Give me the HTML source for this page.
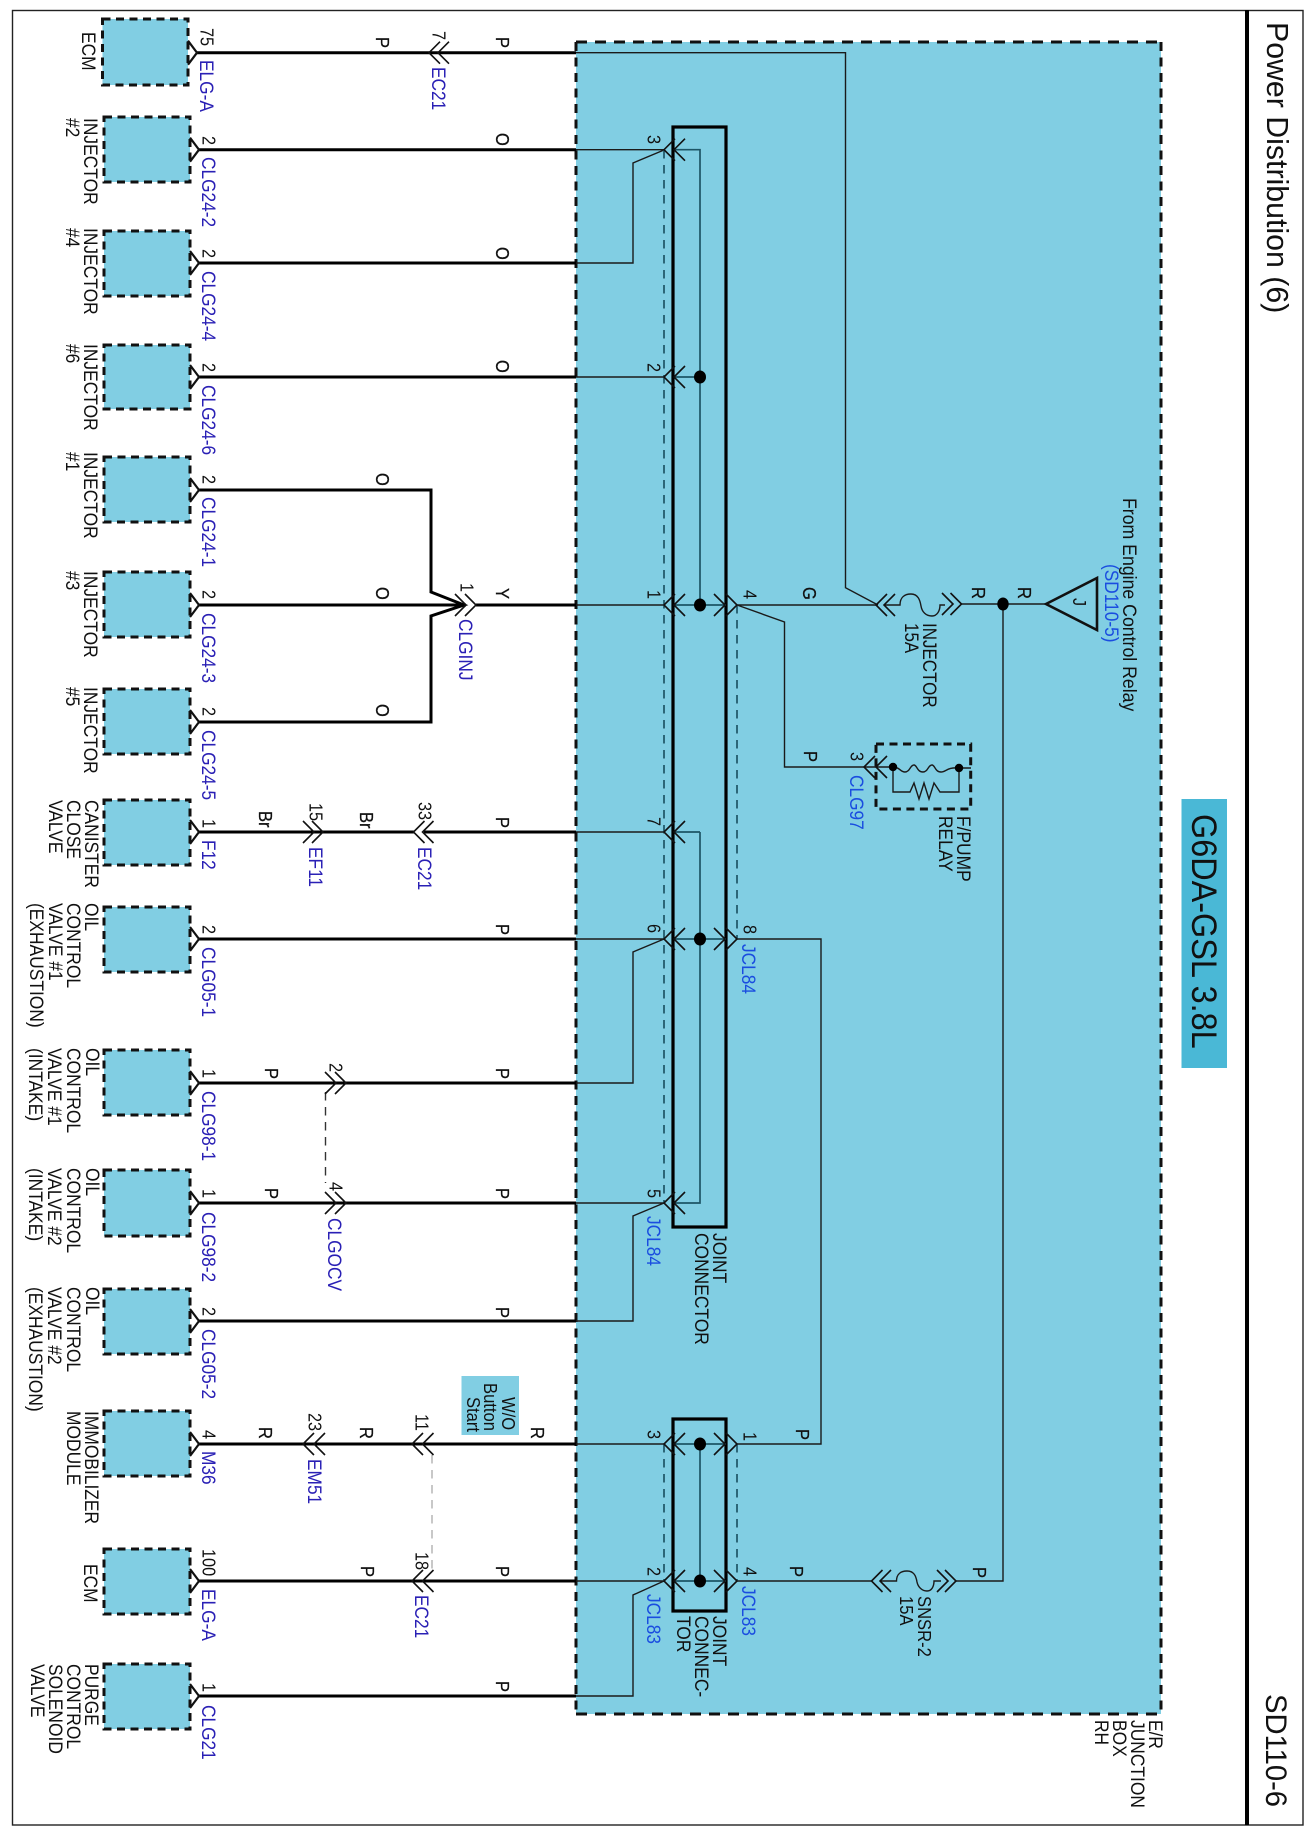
<!DOCTYPE html>
<html><head><meta charset="utf-8"><style>
html,body{margin:0;padding:0;background:#fff}
svg{display:block}
text{font-family:"Liberation Sans",sans-serif;fill:#111;font-size:17.4px}
.p{font-size:16.3px}
.w{font-size:16.5px;stroke:#111;stroke-width:.25px}
.b{fill:#2a20b5;font-size:17.3px}
.c{fill:#1a4de0;font-size:17.3px}
.th{fill:none;stroke:#000;stroke-width:3}
.tn{fill:none;stroke:#1a1a1a;stroke-width:1.4}
.bus{fill:none;stroke:#1d5566;stroke-width:1.7}
.ch{fill:none;stroke:#111;stroke-width:1.6}
.box{fill:#81cee3;stroke:#111;stroke-width:3;stroke-dasharray:8 5.5}
</style></head><body>
<svg xmlns="http://www.w3.org/2000/svg" width="1312" height="1832" viewBox="0 0 1312 1832">
<defs>
<path id="l" class="ch" d="M11 -11L0 0L11 11"/>
<path id="r" class="ch" d="M-11 -11L0 0L-11 11"/>
<path id="e" fill="none" stroke="#111" stroke-width="2.2" d="M-9 -12L0 0L-9 12"/>
</defs>
<rect x="12.5" y="10.5" width="1290.5" height="1814.5" fill="none" stroke="#222" stroke-width="1.4"/>
<rect x="1245" y="10" width="4" height="1815" fill="#000"/>

<!-- junction box -->
<rect x="576" y="42" width="585" height="1672" fill="#81cee3"/>
<path fill="none" stroke="#111" stroke-width="3" stroke-dasharray="11 8" d="M576 42H1161M576 1714H1161"/>
<path fill="none" stroke="#111" stroke-width="3" stroke-dasharray="9 6.5" d="M576 42V1714M1161 42V1714"/>
<rect x="1181.5" y="799" width="45.5" height="269" fill="#4ab8d6"/>
<rect x="461.5" y="1376" width="57.5" height="59" fill="#81cee3"/>

<!-- components -->
<rect class="box" x="102.5" y="19" width="85.5" height="66"/>
<rect class="box" x="104" y="117" width="86" height="65"/>
<rect class="box" x="104" y="231" width="86" height="65"/>
<rect class="box" x="104" y="345" width="86" height="64"/>
<rect class="box" x="104" y="457" width="86" height="65"/>
<rect class="box" x="104" y="572" width="86" height="65"/>
<rect class="box" x="104" y="689" width="86" height="65"/>
<rect class="box" x="104" y="800" width="86" height="65"/>
<rect class="box" x="104" y="907" width="86" height="65"/>
<rect class="box" x="104" y="1050" width="86" height="65"/>
<rect class="box" x="104" y="1170" width="86" height="66"/>
<rect class="box" x="104" y="1289" width="86" height="65"/>
<rect class="box" x="104" y="1411" width="86" height="65"/>
<rect class="box" x="104" y="1549" width="86" height="65"/>
<rect class="box" x="104" y="1664" width="86" height="65"/>

<!-- thick external wires -->
<path class="th" d="M197 52.7H576M199 149.7H576M199 263H576M199 377H576M199 490H431V592L464 605L431 616V722H199M199 605H466M199 832H414M424 832H576M199 939H576M199 1083H576M199 1203H576M199 1321H576M199 1444H576M199 1581H576M199 1696H576"/>
<path fill="none" stroke="#000" stroke-width="3" d="M476 605H576"/>

<!-- thin internal wires -->
<path class="tn" d="M576 52.7H845.5V587.7L878 605M576 149.7H664M576 263H633V163L664 150M576 377H664M576 605H664M576 832H664M576 939H664M576 1083H633V952L664 939M576 1203H664M576 1321H633V1216L664 1203M576 1444H664M576 1581H664M576 1696H633V1595L664 1581"/>
<path class="tn" d="M737 605H876M737 605L784.5 622V767H864M737 939H821V1444H737M737 1581H871M961 604H1046M1003 604V1581H956"/>
<!-- fuses -->
<path class="tn" d="M885 605H900C900 597 905 594 911 594C918 594 920 600 921 606C922 612 926 616 932 616C937 616 940 611 940 605H945"/>
<path class="tn" d="M881 1581H896.5C896.5 1574 901 1571 907 1571C914 1571 916 1576 917 1582C918 1587 922 1591 927 1591C932 1591 934 1586 934 1581H941"/>
<!-- relay -->
<rect x="876" y="744" width="94.7" height="65" fill="none" stroke="#111" stroke-width="3" stroke-dasharray="8 5.5"/>
<path class="tn" d="M864 767H893C900 767 900 772 905 772C910 772 910 765 914 765C917 765 917 772 923 772C928 772 928 765 932 765C935 765 935 772 941 772C946 772 947 767 959 768H971M893 767V792H910L914 783L919 799L924 783L929 799L934 783L940 792H959V768"/>
<circle cx="893" cy="767" r="4.2" fill="#000"/><circle cx="959" cy="768" r="4.2" fill="#000"/>

<!-- joint connectors -->
<rect x="673" y="127" width="53" height="1100" fill="none" stroke="#000" stroke-width="3.2"/>
<rect x="673" y="1419" width="53" height="192" fill="none" stroke="#000" stroke-width="3.2"/>
<path class="bus" d="M674 149.7H700V605M674 377H700M674 605H726M726 939H674M700 832H674M700 832V1203H674M674 1444H726M674 1581H726M700 1444V1581"/>
<path fill="none" stroke="#1d5566" stroke-width="1.7" stroke-dasharray="8.5 6.5" d="M664 150V1203M664 1444V1581M737 605V939M737 1444V1581"/>
<path fill="none" stroke="#333" stroke-width="1.4" stroke-dasharray="8.5 6.5" d="M325.5 1092V1183"/>
<path fill="none" stroke="#bbb" stroke-width="1.6" stroke-dasharray="8.5 6.5" d="M432 1455V1569"/>
<g fill="#000">
<ellipse cx="700" cy="377" rx="6" ry="6.5"/><ellipse cx="700" cy="605" rx="6" ry="6.5"/><ellipse cx="700" cy="939" rx="6" ry="6.5"/><ellipse cx="700" cy="1444" rx="6" ry="6.5"/><ellipse cx="700" cy="1581" rx="6" ry="6.5"/><ellipse cx="1003" cy="604" rx="5.7" ry="6.5"/>
</g>
<!-- chevrons: component ends -->
<use href="#e" x="197" y="52.7"/><use href="#e" x="199" y="149.7"/><use href="#e" x="199" y="263"/><use href="#e" x="199" y="377"/><use href="#e" x="199" y="490"/><use href="#e" x="199" y="605"/><use href="#e" x="199" y="722"/><use href="#e" x="199" y="832"/><use href="#e" x="199" y="939"/><use href="#e" x="199" y="1083"/><use href="#e" x="199" y="1203"/><use href="#e" x="199" y="1321"/><use href="#e" x="199" y="1444"/><use href="#e" x="199" y="1581"/><use href="#e" x="199" y="1696"/>
<!-- chevrons: inline -->
<use href="#l" x="429" y="52.7"/><use href="#l" x="438" y="52.7"/>
<use href="#r" x="466" y="605"/><use href="#r" x="476" y="605"/>
<use href="#r" x="314" y="832"/><use href="#r" x="323" y="832"/>
<use href="#l" x="413.5" y="832"/><use href="#l" x="422.5" y="832"/>
<use href="#r" x="336" y="1083"/><use href="#r" x="346" y="1083"/>
<use href="#r" x="336" y="1203"/><use href="#r" x="346" y="1203"/>
<use href="#l" x="303" y="1444"/><use href="#l" x="314" y="1444"/>
<use href="#l" x="412" y="1444"/><use href="#l" x="422.5" y="1444"/>
<use href="#l" x="412" y="1581"/><use href="#l" x="422.5" y="1581"/>
<!-- chevrons: joint -->
<use href="#l" x="664" y="149.7"/><use href="#l" x="674" y="149.7"/>
<use href="#l" x="664" y="377"/><use href="#l" x="674" y="377"/>
<use href="#l" x="664" y="605"/><use href="#l" x="674" y="605"/>
<use href="#l" x="664" y="832"/><use href="#l" x="674" y="832"/>
<use href="#l" x="664" y="939"/><use href="#l" x="674" y="939"/>
<use href="#l" x="664" y="1203"/><use href="#l" x="674" y="1203"/>
<use href="#l" x="664" y="1444"/><use href="#l" x="674" y="1444"/>
<use href="#l" x="664" y="1581"/><use href="#l" x="674" y="1581"/>
<use href="#r" x="725" y="605"/><use href="#r" x="737" y="605"/>
<use href="#r" x="725" y="939"/><use href="#r" x="737" y="939"/>
<use href="#r" x="725" y="1444"/><use href="#r" x="737" y="1444"/>
<use href="#r" x="725" y="1581"/><use href="#r" x="737" y="1581"/>
<!-- chevrons: fuses, relay -->
<use href="#l" x="876" y="605"/><use href="#l" x="884" y="605"/>
<use href="#r" x="953" y="604"/><use href="#r" x="961.5" y="604"/>
<use href="#l" x="871.5" y="1581"/><use href="#l" x="880" y="1581"/>
<use href="#r" x="948" y="1581"/><use href="#r" x="956" y="1581"/>
<use href="#l" x="864" y="767"/><use href="#l" x="876" y="767"/>
<path d="M1046 604L1097 578V630Z" fill="none" stroke="#111" stroke-width="2.6"/>

<!-- component labels -->
<g transform="translate(1.2 0)">
<text transform="matrix(0 1 -1.12 0 81 32)">ECM</text>
<text transform="matrix(0 1 -1.12 0 83 118)">INJECTOR</text><text transform="matrix(0 1 -1.12 0 65 118)">#2</text>
<text transform="matrix(0 1 -1.12 0 83 228)">INJECTOR</text><text transform="matrix(0 1 -1.12 0 65 228)">#4</text>
<text transform="matrix(0 1 -1.12 0 83 344)">INJECTOR</text><text transform="matrix(0 1 -1.12 0 65 344)">#6</text>
<text transform="matrix(0 1 -1.12 0 83 452)">INJECTOR</text><text transform="matrix(0 1 -1.12 0 65 452)">#1</text>
<text transform="matrix(0 1 -1.12 0 83 571)">INJECTOR</text><text transform="matrix(0 1 -1.12 0 65 571)">#3</text>
<text transform="matrix(0 1 -1.12 0 83 687)">INJECTOR</text><text transform="matrix(0 1 -1.12 0 65 687)">#5</text>
<text transform="matrix(0 1 -1.12 0 84 800)">CANISTER</text><text transform="matrix(0 1 -1.12 0 66 800)">CLOSE</text><text transform="matrix(0 1 -1.12 0 48 800)">VALVE</text>
<text transform="matrix(0 1 -1.12 0 84 903)">OIL</text><text transform="matrix(0 1 -1.12 0 66 903)">CONTROL</text><text transform="matrix(0 1 -1.12 0 48 903)">VALVE #1</text><text transform="matrix(0 1 -1.12 0 29 903)">(EXHAUSTION)</text>
<text transform="matrix(0 1 -1.12 0 85 1048)">OIL</text><text transform="matrix(0 1 -1.12 0 66 1048)">CONTROL</text><text transform="matrix(0 1 -1.12 0 47 1048)">VALVE #1</text><text transform="matrix(0 1 -1.12 0 28 1048)">(INTAKE)</text>
<text transform="matrix(0 1 -1.12 0 85 1168)">OIL</text><text transform="matrix(0 1 -1.12 0 66 1168)">CONTROL</text><text transform="matrix(0 1 -1.12 0 47 1168)">VALVE #2</text><text transform="matrix(0 1 -1.12 0 28 1168)">(INTAKE)</text>
<text transform="matrix(0 1 -1.12 0 85 1287)">OIL</text><text transform="matrix(0 1 -1.12 0 66 1287)">CONTROL</text><text transform="matrix(0 1 -1.12 0 47 1287)">VALVE #2</text><text transform="matrix(0 1 -1.12 0 28 1287)">(EXHAUSTION)</text>
<text transform="matrix(0 1 -1.12 0 84 1411)">IMMOBILIZER</text><text transform="matrix(0 1 -1.12 0 66 1411)">MODULE</text>
<text transform="matrix(0 1 -1.12 0 83 1564)">ECM</text>
<text transform="matrix(0 1 -1.12 0 84 1664)">PURGE</text><text transform="matrix(0 1 -1.12 0 66 1664)">CONTROL</text><text transform="matrix(0 1 -1.12 0 48 1664)">SOLENOID</text><text transform="matrix(0 1 -1.12 0 30 1664)">VALVE</text>
<text style="font-size:16.6px" transform="matrix(0 1 -1.12 0 501 1397)">W/O</text><text style="font-size:16.6px" transform="matrix(0 1 -1.12 0 483 1383)">Button</text><text style="font-size:16.6px" transform="matrix(0 1 -1.12 0 466 1397)">Start</text>
<text transform="matrix(0 1 -1.12 0 712 1233)">JOINT</text><text transform="matrix(0 1 -1.12 0 694 1233)">CONNECTOR</text>
<text transform="matrix(0 1 -1.12 0 712 1616)">JOINT</text><text transform="matrix(0 1 -1.12 0 694 1616)">CONNEC-</text><text transform="matrix(0 1 -1.12 0 676 1616)">TOR</text>
<text style="font-size:17px" transform="matrix(0 1 -1.12 0 922 623)">INJECTOR</text><text style="font-size:17px" transform="matrix(0 1 -1.12 0 904 623)">15A</text>
<text style="font-size:16.6px" transform="matrix(0 1 -1.12 0 917 1596)">SNSR-2</text><text style="font-size:16.6px" transform="matrix(0 1 -1.12 0 899 1596)">15A</text>
<text transform="matrix(0 1 -1.12 0 956 816)">F/PUMP</text><text transform="matrix(0 1 -1.12 0 938 816)">RELAY</text>
<text style="font-size:17.7px" transform="matrix(0 1 -1.12 0 1122 498)">From Engine Control Relay</text>
<text class="c" transform="matrix(0 1 -1.12 0 1104 564)">(SD110-5)</text>
<text class="p" transform="matrix(0 1 -1.12 0 1072 598)">J</text>
<text transform="matrix(0 1 -1.12 0 1148 1720)">E/R</text><text transform="matrix(0 1 -1.12 0 1130 1720)">JUNCTION</text><text transform="matrix(0 1 -1.12 0 1112 1720)">BOX</text><text transform="matrix(0 1 -1.12 0 1094 1720)">RH</text>
<text style="font-size:32.4px" transform="matrix(0 1 -1.08 0 1191 814)">G6DA-GSL 3.8L</text>
<text style="font-size:30.3px" transform="matrix(0 1 -1 0 1266 22)">Power Distribution (6)</text>
<text style="font-size:29.2px" transform="matrix(0 1 -1 0 1265 1694)">SD110-6</text>
</g>

<!-- pin numbers -->
<g transform="translate(1.5 0)">
<text class="p" transform="matrix(0 1 -1.12 0 199 28)">75</text>
<text class="p" transform="matrix(0 1 -1.12 0 201 136)">2</text>
<text class="p" transform="matrix(0 1 -1.12 0 201 249)">2</text>
<text class="p" transform="matrix(0 1 -1.12 0 201 363)">2</text>
<text class="p" transform="matrix(0 1 -1.12 0 201 475)">2</text>
<text class="p" transform="matrix(0 1 -1.12 0 201 590)">2</text>
<text class="p" transform="matrix(0 1 -1.12 0 201 707)">2</text>
<text class="p" transform="matrix(0 1 -1.12 0 201 819)">1</text>
<text class="p" transform="matrix(0 1 -1.12 0 201 925)">2</text>
<text class="p" transform="matrix(0 1 -1.12 0 201 1069)">1</text>
<text class="p" transform="matrix(0 1 -1.12 0 201 1189)">1</text>
<text class="p" transform="matrix(0 1 -1.12 0 201 1307)">2</text>
<text class="p" transform="matrix(0 1 -1.12 0 201 1430)">4</text>
<text class="p" transform="matrix(0 1 -1.12 0 201 1549)">100</text>
<text class="p" transform="matrix(0 1 -1.12 0 201 1683)">1</text>
<text class="p" transform="matrix(0 1 -1.12 0 431 31)">7</text>
<text class="p" transform="matrix(0 1 -1.12 0 459 583)">1</text>
<text class="p" transform="matrix(0 1 -1.12 0 308 803)">15</text>
<text class="p" transform="matrix(0 1 -1.12 0 417 802)">33</text>
<text class="p" transform="matrix(0 1 -1.12 0 328 1063)">2</text>
<text class="p" transform="matrix(0 1 -1.12 0 328 1182)">4</text>
<text class="p" transform="matrix(0 1 -1.12 0 307 1413)">23</text>
<text class="p" transform="matrix(0 1 -1.12 0 414 1414)">11</text>
<text class="p" transform="matrix(0 1 -1.12 0 414 1552)">18</text>
<text class="p" transform="matrix(0 1 -1.12 0 646 135)">3</text>
<text class="p" transform="matrix(0 1 -1.12 0 646 363)">2</text>
<text class="p" transform="matrix(0 1 -1.12 0 646 590)">1</text>
<text class="p" transform="matrix(0 1 -1.12 0 646 817)">7</text>
<text class="p" transform="matrix(0 1 -1.12 0 646 924)">6</text>
<text class="p" transform="matrix(0 1 -1.12 0 646 1189)">5</text>
<text class="p" transform="matrix(0 1 -1.12 0 646 1430)">3</text>
<text class="p" transform="matrix(0 1 -1.12 0 646 1567)">2</text>
<text class="p" transform="matrix(0 1 -1.12 0 742 590)">4</text>
<text class="p" transform="matrix(0 1 -1.12 0 742 925)">8</text>
<text class="p" transform="matrix(0 1 -1.12 0 742 1432)">1</text>
<text class="p" transform="matrix(0 1 -1.12 0 742 1567)">4</text>
<text class="p" transform="matrix(0 1 -1.12 0 849 752)">3</text>
</g>

<!-- connector names -->
<g transform="translate(1.2 0)">
<text class="b" transform="matrix(0 1 -1.12 0 199 60)">ELG-A</text>
<text class="b" transform="matrix(0 1 -1.12 0 201 157)">CLG24-2</text>
<text class="b" transform="matrix(0 1 -1.12 0 201 271)">CLG24-4</text>
<text class="b" transform="matrix(0 1 -1.12 0 201 385)">CLG24-6</text>
<text class="b" transform="matrix(0 1 -1.12 0 201 497)">CLG24-1</text>
<text class="b" transform="matrix(0 1 -1.12 0 201 613)">CLG24-3</text>
<text class="b" transform="matrix(0 1 -1.12 0 201 730)">CLG24-5</text>
<text class="b" transform="matrix(0 1 -1.12 0 201 840)">F12</text>
<text class="b" transform="matrix(0 1 -1.12 0 201 947)">CLG05-1</text>
<text class="b" transform="matrix(0 1 -1.12 0 201 1091)">CLG98-1</text>
<text class="b" transform="matrix(0 1 -1.12 0 201 1212)">CLG98-2</text>
<text class="b" transform="matrix(0 1 -1.12 0 201 1329)">CLG05-2</text>
<text class="b" transform="matrix(0 1 -1.12 0 201 1451)">M36</text>
<text class="b" transform="matrix(0 1 -1.12 0 201 1589)">ELG-A</text>
<text class="b" transform="matrix(0 1 -1.12 0 201 1705)">CLG21</text>
<text class="b" transform="matrix(0 1 -1.12 0 431 67)">EC21</text>
<text class="b" transform="matrix(0 1 -1.12 0 458 619)">CLGINJ</text>
<text class="b" transform="matrix(0 1 -1.12 0 308 847)">EF11</text>
<text class="b" transform="matrix(0 1 -1.12 0 417 847)">EC21</text>
<text class="b" transform="matrix(0 1 -1.12 0 327 1218)">CLGOCV</text>
<text class="b" transform="matrix(0 1 -1.12 0 307 1459)">EM51</text>
<text class="b" transform="matrix(0 1 -1.12 0 414 1595)">EC21</text>
<text class="c" transform="matrix(0 1 -1.12 0 741 944)">JCL84</text>
<text class="c" transform="matrix(0 1 -1.12 0 741 1586)">JCL83</text>
<text class="c" transform="matrix(0 1 -1.12 0 646 1216)">JCL84</text>
<text class="c" transform="matrix(0 1 -1.12 0 646 1594)">JCL83</text>
<text class="c" transform="matrix(0 1 -1.12 0 849 775)">CLG97</text>
</g>

<!-- wire colour labels -->
<g>
<text class="w" transform="matrix(0 1 -1.12 0 376 37)">P</text><text class="w" transform="matrix(0 1 -1.12 0 496 37)">P</text>
<text class="w" transform="matrix(0 1 -1.12 0 496 133)">O</text>
<text class="w" transform="matrix(0 1 -1.12 0 496 247)">O</text>
<text class="w" transform="matrix(0 1 -1.12 0 496 360)">O</text>
<text class="w" transform="matrix(0 1 -1.12 0 376 473)">O</text>
<text class="w" transform="matrix(0 1 -1.12 0 376 587)">O</text>
<text class="w" transform="matrix(0 1 -1.12 0 376 704)">O</text>
<text class="w" transform="matrix(0 1 -1.12 0 496 588)">Y</text>
<text class="w" transform="matrix(0 1 -1.12 0 259 811)">Br</text><text class="w" transform="matrix(0 1 -1.12 0 360 812)">Br</text><text class="w" transform="matrix(0 1 -1.12 0 496 817)">P</text>
<text class="w" transform="matrix(0 1 -1.12 0 496 924)">P</text>
<text class="w" transform="matrix(0 1 -1.12 0 265 1068)">P</text><text class="w" transform="matrix(0 1 -1.12 0 496 1068)">P</text>
<text class="w" transform="matrix(0 1 -1.12 0 265 1188)">P</text><text class="w" transform="matrix(0 1 -1.12 0 496 1188)">P</text>
<text class="w" transform="matrix(0 1 -1.12 0 496 1307)">P</text>
<text class="w" transform="matrix(0 1 -1.12 0 259 1427)">R</text><text class="w" transform="matrix(0 1 -1.12 0 360 1427)">R</text><text class="w" transform="matrix(0 1 -1.12 0 531 1427)">R</text>
<text class="w" transform="matrix(0 1 -1.12 0 361 1566)">P</text><text class="w" transform="matrix(0 1 -1.12 0 496 1566)">P</text>
<text class="w" transform="matrix(0 1 -1.12 0 496 1681)">P</text>
<text class="w" transform="matrix(0 1 -1.12 0 803 587)">G</text>
<text class="w" transform="matrix(0 1 -1.12 0 972 587)">R</text><text class="w" transform="matrix(0 1 -1.12 0 1018 587)">R</text>
<text class="w" transform="matrix(0 1 -1.12 0 804 751)">P</text>
<text class="w" transform="matrix(0 1 -1.12 0 796 1429)">P</text>
<text class="w" transform="matrix(0 1 -1.12 0 790 1566)">P</text>
<text class="w" transform="matrix(0 1 -1.12 0 973 1567)">P</text>
</g>
</svg>
</body></html>
